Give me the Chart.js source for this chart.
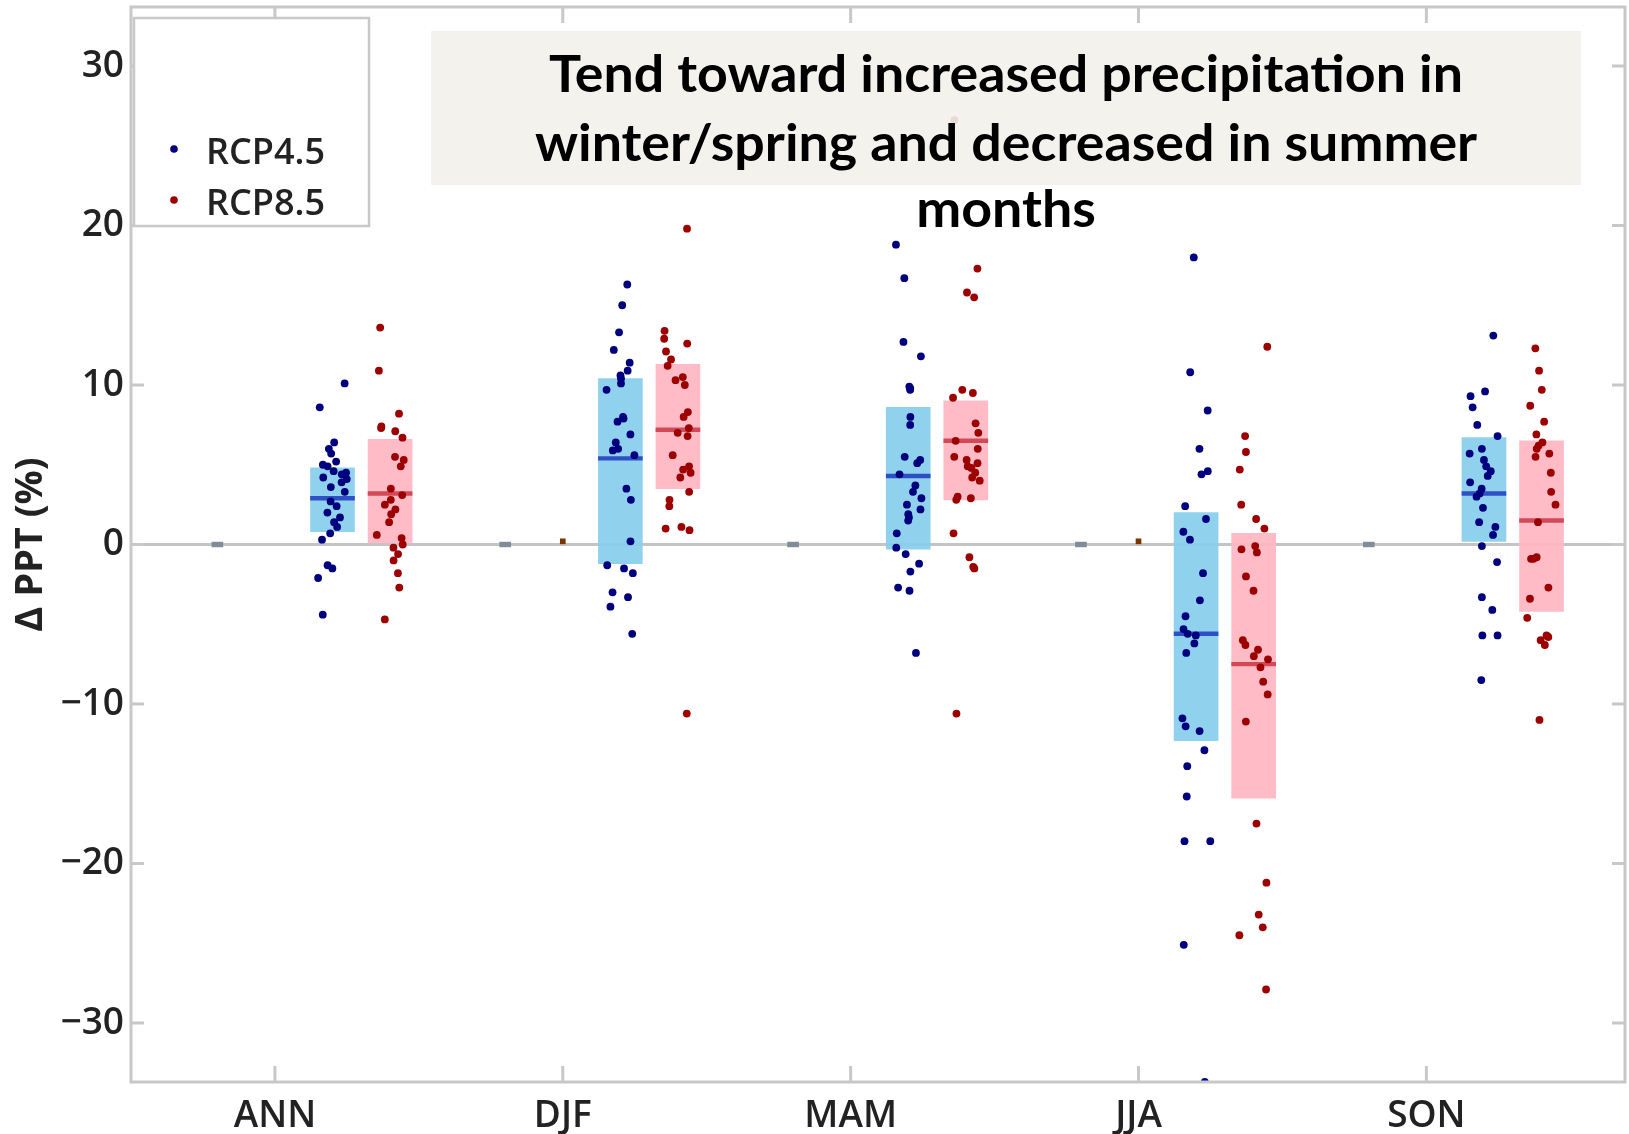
<!DOCTYPE html>
<html><head><meta charset="utf-8">
<script src="https://cdn.jsdelivr.net/npm/chart.js@4.4.1/dist/chart.umd.min.js"></script>
<style>html,body{margin:0;padding:0;background:#fff;}canvas{display:block;}</style>
</head><body>
<canvas id="c" width="1629" height="1134"></canvas>
<script>
// ---------------- data ----------------
const categories = ['ANN', 'DJF', 'MAM', 'JJA', 'SON'];
const seriesNames = ['RCP4.5', 'RCP8.5'];
const yTickValues = [-30, -20, -10, 0, 10, 20, 30];
const titleLines = ['Tend toward increased precipitation in', 'winter/spring and decreased in summer', 'months'];
const yAxisTitle = 'Δ PPT (%)';

// inter-model range boxes and medians (percent change)
const rcp45Low = [0.8, -1.2, -0.3, -12.3, 0.2];
const rcp45High = [4.8, 10.4, 8.6, 2.0, 6.7];
const rcp45Median = [2.9, 5.4, 4.3, -5.6, 3.2];
const rcp85Low = [0.0, 3.5, 2.8, -15.9, -4.2];
const rcp85High = [6.6, 11.3, 9.0, 0.7, 6.5];
const rcp85Median = [3.2, 7.2, 6.5, -7.5, 1.5];

// individual models
const ann45 = [10.1, 8.6, 6.4, 6.0, 5.7, 5.2, 5.0, 4.9, 4.6, 4.5, 4.4, 4.2, 4.1, 3.9, 3.6, 3.3, 2.7, 2.4, 2.0, 1.7, 1.4, 1.1, 0.7, 0.3, -1.3, -1.5, -2.1, -4.4];
const ann85 = [13.6, 10.9, 8.2, 7.4, 7.3, 7.1, 6.7, 5.5, 5.3, 4.9, 3.5, 3.1, 2.8, 2.5, 2.2, 1.9, 1.4, 0.6, 0.4, 0.0, -0.2, -0.6, -1.0, -1.8, -2.7, -4.7];
const djf45 = [16.3, 15.0, 13.3, 12.2, 11.4, 10.9, 10.6, 10.4, 10.1, 9.7, 8.0, 7.9, 7.7, 6.9, 6.4, 6.0, 5.9, 5.6, 3.5, 2.8, 0.2, -1.3, -1.5, -1.8, -3.0, -3.3, -3.9, -5.6];
const djf85 = [19.8, 13.4, 12.9, 12.6, 12.1, 11.6, 11.2, 10.5, 10.3, 10.0, 8.3, 8.0, 7.3, 7.0, 6.8, 5.6, 4.9, 4.7, 4.5, 4.2, 3.3, 2.8, 2.4, 1.1, 1.0, 0.9, -10.6];
const mam45 = [18.8, 16.7, 12.7, 11.8, 9.9, 9.8, 9.7, 8.0, 7.5, 5.5, 5.3, 5.1, 4.4, 3.7, 3.3, 2.9, 2.5, 2.2, 1.9, 1.7, 1.5, 0.7, -0.2, -0.6, -1.2, -1.7, -2.7, -2.9, -6.8];
const mam85 = [26.6, 17.3, 15.8, 15.5, 9.7, 9.5, 9.2, 7.6, 7.0, 6.5, 6.0, 5.5, 5.3, 5.1, 4.9, 4.8, 4.5, 4.2, 4.0, 3.0, 2.9, 2.8, 0.7, -0.8, -1.4, -1.5, -10.6];
const jja45 = [18.0, 10.8, 8.4, 6.0, 4.6, 4.4, 2.4, 1.6, 0.8, 0.3, -1.8, -3.5, -4.5, -5.3, -5.6, -5.7, -6.2, -6.8, -10.9, -11.4, -11.7, -12.9, -13.9, -15.8, -18.6, -18.6, -25.1, -33.7];
const jja85 = [12.4, 6.8, 5.8, 4.7, 2.5, 1.6, 1.0, -0.1, -0.3, -0.5, -2.0, -2.9, -6.0, -6.3, -6.6, -7.0, -7.2, -7.7, -8.6, -9.4, -11.1, -17.5, -21.2, -23.2, -24.0, -24.5, -27.9];
const son45 = [13.1, 9.6, 9.3, 8.6, 7.5, 6.8, 6.0, 5.7, 5.3, 4.9, 4.6, 4.3, 3.9, 3.5, 3.2, 3.0, 2.3, 1.4, 1.1, 0.6, -0.1, -1.1, -3.3, -4.1, -5.7, -5.7, -8.5];
const son85 = [12.3, 10.9, 9.7, 8.7, 7.7, 6.9, 6.4, 6.2, 6.0, 5.7, 5.5, 4.5, 3.3, 2.5, 1.4, -0.8, -0.9, -0.9, -2.7, -3.4, -4.6, -5.7, -5.8, -6.0, -6.3, -11.0];

// historical reference marks near zero
const histBox = [0.0, 0.0, 0.0, 0.0, 0.0];
const histPoint = [null, 0.2, null, 0.2, null];

// ---------------- layout helpers ----------------
const rcp45Models = [ann45, djf45, mam45, jja45, son45];
const rcp85Models = [ann85, djf85, mam85, jja85, son85];
const OFF45 = 0.2, OFF85 = 0.4, OFFHIST = -0.2;
// deterministic horizontal scatter of the dots (visual spread only)
function jitter(i, g) {
  const s = Math.sin((i + 1) * 12.9898 + g * 78.233) * 43758.5453;
  return ((s - Math.floor(s)) - 0.5) * 0.1;
}

function modelPoints(groups, off, g0) {
  const out = [];
  groups.forEach((vals, ci) => vals.forEach((v, i) => out.push({ x: ci + 1 + off + jitter(i, g0 + ci), y: v })));
  return out;
}
function rangeBars(lo, hi, off) { return categories.map((c, i) => ({ x: i + 1 + off, y: [lo[i], hi[i]] })); }
function medianBars(med, off) { return categories.map((c, i) => ({ x: i + 1 + off, y: [med[i] - 0.12, med[i] + 0.12] })); }

const BLUE_BOX = 'rgba(135,206,235,0.92)', RED_BOX = 'rgba(255,182,193,0.92)';
const BLUE_DOT = '#00007f', RED_DOT = '#9c0000';
const GRID = '#c8c8c8';
const FONT = '"Open Sans", "DejaVu Sans", sans-serif';

const framePlugin = {
  id: 'frame',
  afterDraw(chart) {
    const { ctx, chartArea: a, scales } = chart;
    ctx.save();
    ctx.strokeStyle = GRID; ctx.lineWidth = 3;
    ctx.strokeRect(a.left, a.top, a.right - a.left, a.bottom - a.top);
    yTickValues.forEach(v => {
      const y = scales.y.getPixelForValue(v);
      ctx.beginPath(); ctx.moveTo(a.left, y); ctx.lineTo(a.left + 13, y); ctx.stroke();
      ctx.beginPath(); ctx.moveTo(a.right, y); ctx.lineTo(a.right - 13, y); ctx.stroke();
    });
    categories.forEach((c, i) => {
      const x = scales.x.getPixelForValue(i + 1);
      ctx.beginPath(); ctx.moveTo(x, a.bottom); ctx.lineTo(x, a.bottom - 16); ctx.stroke();
      ctx.beginPath(); ctx.moveTo(x, a.top); ctx.lineTo(x, a.top + 16); ctx.stroke();
    });
    // legend
    ctx.fillStyle = '#ffffff';
    ctx.fillRect(134, 18, 235, 208);
    ctx.strokeStyle = GRID; ctx.lineWidth = 2.5;
    ctx.strokeRect(134, 18, 235, 208);
    const legendColors = [BLUE_DOT, RED_DOT];
    seriesNames.forEach((name, i) => {
      const cy = 149 + i * 51;
      ctx.fillStyle = legendColors[i];
      ctx.beginPath(); ctx.arc(174, cy, 3.8, 0, Math.PI * 2); ctx.fill();
      ctx.fillStyle = '#222';
      ctx.font = '600 36px ' + FONT;
      ctx.textAlign = 'left'; ctx.textBaseline = 'alphabetic';
      ctx.fillText(name, 206, cy + 15);
    });
    // title box
    ctx.fillStyle = 'rgba(242,241,235,0.9)';
    ctx.fillRect(431, 31, 1150, 154);
    ctx.fillStyle = '#000';
    ctx.font = 'bold 52px Lato, "Liberation Sans", sans-serif';
    const w0 = ctx.measureText(titleLines[0]).width;
    const sx = 914 / w0;
    const baselines = [92, 161, 227];
    titleLines.forEach((t, i) => {
      ctx.save();
      ctx.translate(1006, baselines[i]);
      ctx.scale(sx, 1);
      ctx.textAlign = 'center'; ctx.textBaseline = 'alphabetic';
      ctx.fillText(t, 0, 0);
      ctx.restore();
    });
    ctx.restore();
  }
};

const minusFmt = v => (v < 0 ? '\u2212' + Math.abs(v) : String(v));

new Chart(document.getElementById('c'), {
  type: 'scatter',
  data: {
    datasets: [
      { type: 'bar', label: 'RCP4.5 range', data: rangeBars(rcp45Low, rcp45High, OFF45), backgroundColor: BLUE_BOX, barThickness: 44, grouped: false, order: 10 },
      { type: 'bar', label: 'RCP8.5 range', data: rangeBars(rcp85Low, rcp85High, OFF85), backgroundColor: RED_BOX, barThickness: 44, grouped: false, order: 10 },
      { type: 'bar', label: 'Historical', data: rangeBars(histBox.map(v => v - 0.15), histBox.map(v => v + 0.15), OFFHIST), backgroundColor: '#7f8c99', barThickness: 11, grouped: false, order: 9 },
      { type: 'bar', label: 'RCP4.5 median', data: medianBars(rcp45Median, OFF45), backgroundColor: '#2f4fc4', barThickness: 44, grouped: false, order: 8 },
      { type: 'bar', label: 'RCP8.5 median', data: medianBars(rcp85Median, OFF85), backgroundColor: '#d24a58', barThickness: 44, grouped: false, order: 8 },
      { label: 'Historical point', data: categories.map((c, i) => ({ x: i + 1, y: histPoint[i] })), pointStyle: 'rect', pointRadius: 4, backgroundColor: '#7a3300', borderWidth: 0, order: 2 },
      { label: seriesNames[0], data: modelPoints(rcp45Models, OFF45, 0), pointRadius: 3.9, backgroundColor: BLUE_DOT, borderWidth: 0, order: 1 },
      { label: seriesNames[1], data: modelPoints(rcp85Models, OFF85, 5), pointRadius: 3.9, backgroundColor: RED_DOT, borderWidth: 0, order: 1 }
    ]
  },
  options: {
    responsive: false,
    animation: false,
    devicePixelRatio: 1,
    layout: { padding: { top: 7, right: 3, left: 0, bottom: 0 } },
    plugins: { legend: { display: false }, tooltip: { enabled: false } },
    scales: {
      x: {
        type: 'linear', min: 0.5, max: 5.69, offset: false,
        afterBuildTicks: s => { s.ticks = categories.map((c, i) => ({ value: i + 1 })); },
        afterFit: s => { s.height = 52; s.paddingLeft = 0; s.paddingRight = 0; },
        ticks: { callback: v => categories[v - 1] || '', color: '#222', font: { family: FONT, size: 37, weight: '600' }, padding: 12, maxRotation: 0, autoSkip: false },
        grid: { display: false, drawTicks: false },
        border: { display: false }
      },
      y: {
        min: -33.7, max: 33.7,
        afterBuildTicks: s => { s.ticks = yTickValues.map(v => ({ value: v })); },
        afterFit: s => { s.width = 131; s.paddingTop = 0; s.paddingBottom = 0; },
        ticks: { callback: minusFmt, color: '#222', font: { family: FONT, size: 37, weight: '600' }, padding: 7 },
        grid: { drawTicks: false, color: c => (c.tick && c.tick.value === 0 ? '#c4c4c4' : 'rgba(0,0,0,0)'), lineWidth: c => (c.tick && c.tick.value === 0 ? 3 : 0) },
        border: { display: false },
        title: { display: true, text: yAxisTitle, color: '#222', font: { family: FONT, size: 38, weight: 'bold' }, padding: { top: 8, bottom: 0 } }
      }
    }
  },
  plugins: [framePlugin]
});
</script>
</body></html>
